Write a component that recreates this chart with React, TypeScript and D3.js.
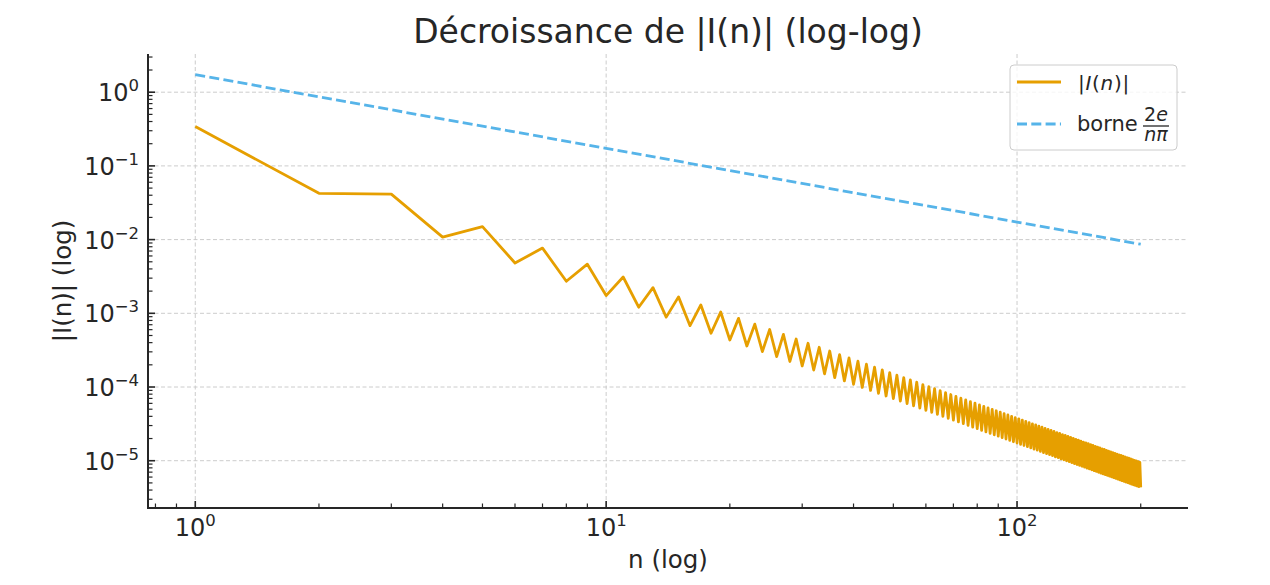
import * as d3 from 'd3';
import React from 'react';

// |I(n)| for n = 1..200
const absI: number[] = [
  0.342, 0.0425, 0.0414, 0.0108, 0.015, 0.00482, 0.00767, 0.00272, 0.00464, 0.00174,
  0.00311, 0.00121, 0.00223, 0.000888, 0.00167, 0.00068, 0.0013, 0.000537, 0.00104, 0.000435,
  8.54e-4, 3.6e-4, 7.12e-4, 3.02e-4, 6.03e-4, 2.58e-4, 5.17e-4, 2.22e-4, 4.48e-4, 1.93e-4,
  3.92e-4, 1.7e-4, 3.46e-4, 1.51e-4, 3.08e-4, 1.34e-4, 2.75e-4, 1.21e-4, 2.48e-4, 1.09e-4,
  2.24e-4, 9.87e-5, 2.04e-4, 8.99e-5, 1.86e-4, 8.23e-5, 1.71e-4, 7.56e-5, 1.57e-4, 6.96e-5,
  1.45e-4, 6.44e-5, 1.34e-4, 5.97e-5, 1.25e-4, 5.55e-5, 1.16e-4, 5.18e-5, 1.08e-4, 4.84e-5,
  1.01e-4, 4.53e-5, 9.49e-5, 4.25e-5, 8.92e-5, 4.0e-5, 8.39e-5, 3.77e-5, 7.91e-5, 3.55e-5,
  7.47e-5, 3.36e-5, 7.07e-5, 3.18e-5, 6.7e-5, 3.01e-5, 6.35e-5, 2.86e-5, 6.04e-5, 2.72e-5,
  5.74e-5, 2.59e-5, 5.47e-5, 2.47e-5, 5.21e-5, 2.35e-5, 4.98e-5, 2.25e-5, 4.76e-5, 2.15e-5,
  4.55e-5, 2.06e-5, 4.36e-5, 1.97e-5, 4.17e-5, 1.89e-5, 4.0e-5, 1.81e-5, 3.84e-5, 1.74e-5,
  3.69e-5, 1.67e-5, 3.55e-5, 1.61e-5, 3.42e-5, 1.55e-5, 3.29e-5, 1.49e-5, 3.17e-5, 1.44e-5,
  3.06e-5, 1.39e-5, 2.95e-5, 1.34e-5, 2.85e-5, 1.29e-5, 2.75e-5, 1.25e-5, 2.66e-5, 1.21e-5,
  2.57e-5, 1.17e-5, 2.49e-5, 1.13e-5, 2.41e-5, 1.1e-5, 2.34e-5, 1.06e-5, 2.26e-5, 1.03e-5,
  2.2e-5, 9.99e-6, 2.13e-5, 9.7e-6, 2.07e-5, 9.41e-6, 2.01e-5, 9.14e-6, 1.95e-5, 8.88e-6,
  1.9e-5, 8.63e-6, 1.84e-5, 8.4e-6, 1.79e-5, 8.17e-6, 1.74e-5, 7.95e-6, 1.7e-5, 7.74e-6,
  1.65e-5, 7.54e-6, 1.61e-5, 7.34e-6, 1.57e-5, 7.15e-6, 1.53e-5, 6.97e-6, 1.49e-5, 6.8e-6,
  1.45e-5, 6.63e-6, 1.42e-5, 6.47e-6, 1.38e-5, 6.32e-6, 1.35e-5, 6.17e-6, 1.32e-5, 6.02e-6,
  1.29e-5, 5.89e-6, 1.26e-5, 5.75e-6, 1.23e-5, 5.62e-6, 1.2e-5, 5.5e-6, 1.18e-5, 5.37e-6,
  1.15e-5, 5.26e-6, 1.13e-5, 5.14e-6, 1.1e-5, 5.03e-6, 1.08e-5, 4.93e-6, 1.06e-5, 4.82e-6,
  1.03e-5, 4.72e-6, 1.01e-5, 4.63e-6, 9.91e-6, 4.53e-6, 9.71e-6, 4.44e-6, 9.51e-6, 4.35e-6,
];

// bound 2e/(n*pi)
const boundN = [1, 2, 5, 10, 20, 50, 100, 200];
const boundValues = [1.7305, 0.8653, 0.3461, 0.1731, 0.08653, 0.03461, 0.01731, 0.008653];

const xMajorTicks = [1, 10, 100];
const xTickExponents = ['0', '1', '2'];
const yMajorTicks = [1, 0.1, 0.01, 0.001, 1e-4, 1e-5];
const yTickExponents = ['0', '\u22121', '\u22122', '\u22123', '\u22124', '\u22125'];

const width = 1270;
const height = 585;
const margin = { top: 54, right: 82, bottom: 77, left: 148 };
const font = 'DejaVu Sans, sans-serif';
const ink = '#262626';
const orange = '#E69F00';
const blue = '#56B4E9';

// matplotlib-style 5% margin in log space
const logPad = (lo: number, hi: number): [number, number] => {
  const a = Math.log10(lo);
  const b = Math.log10(hi);
  const p = (b - a) * 0.05;
  return [Math.pow(10, a - p), Math.pow(10, b + p)];
};

const isPow10 = (v: number) => Math.abs(Math.log10(v) - Math.round(Math.log10(v))) < 1e-9;

const App: React.FC = () => {
  const points = absI.map((v, i) => ({ n: i + 1, v }));
  const bound = boundN.map((n, i) => ({ n, v: boundValues[i] }));

  const x = d3
    .scaleLog()
    .domain(logPad(1, points.length))
    .range([margin.left, width - margin.right]);
  const allV = [...absI, ...boundValues];
  const y = d3
    .scaleLog()
    .domain(logPad(d3.min(allV)!, d3.max(allV)!))
    .range([height - margin.bottom, margin.top]);

  const line = d3
    .line<{ n: number; v: number }>()
    .x((d) => x(d.n))
    .y((d) => y(d.v));

  const xMinor = x.ticks().filter((t) => !isPow10(t));
  const yMinor = y.ticks().filter((t) => !isPow10(t));
  const x0 = margin.left;
  const x1 = width - margin.right;
  const y0 = height - margin.bottom;
  const y1 = margin.top;

  return (
    <svg
      width={width}
      height={height}
      style={{ position: 'absolute', left: 0, top: 0, background: '#fff' }}
      fontFamily={font}
    >
      {/* grid */}
      <g stroke="#cccccc" strokeWidth={1} strokeDasharray="4,2.5">
        {xMajorTicks.map((t) => (
          <line key={'gx' + t} x1={x(t)} x2={x(t)} y1={y1} y2={y0} />
        ))}
        {yMajorTicks.map((t) => (
          <line key={'gy' + t} x1={x0} x2={x1} y1={y(t)} y2={y(t)} />
        ))}
      </g>

      {/* series */}
      <path
        d={line(points)!}
        fill="none"
        stroke={orange}
        strokeWidth={2.8}
        strokeLinejoin="round"
      />
      <path
        d={line(bound)!}
        fill="none"
        stroke={blue}
        strokeWidth={2.8}
        strokeDasharray="10,4.3"
      />

      {/* spines */}
      <g stroke={ink} strokeWidth={2}>
        <line x1={x0} x2={x0} y1={y1} y2={y0 + 1} />
        <line x1={x0 - 1} x2={x1} y1={y0} y2={y0} />
      </g>

      {/* ticks pointing inward */}
      <g stroke={ink}>
        {xMajorTicks.map((t) => (
          <line key={'tx' + t} x1={x(t)} x2={x(t)} y1={y0} y2={y0 - 7} strokeWidth={1.6} />
        ))}
        {xMinor.map((t) => (
          <line key={'mx' + t} x1={x(t)} x2={x(t)} y1={y0} y2={y0 - 4.5} strokeWidth={1.2} />
        ))}
        {yMajorTicks.map((t) => (
          <line key={'ty' + t} x1={x0} x2={x0 + 7} y1={y(t)} y2={y(t)} strokeWidth={1.6} />
        ))}
        {yMinor.map((t) => (
          <line key={'my' + t} x1={x0} x2={x0 + 4.5} y1={y(t)} y2={y(t)} strokeWidth={1.2} />
        ))}
      </g>

      {/* tick labels */}
      <g fill={ink} fontSize={24}>
        {xMajorTicks.map((t, i) => (
          <text key={'lx' + t} x={x(t)} y={536} textAnchor="middle">
            10<tspan dy={-10} fontSize={16.5}>{xTickExponents[i]}</tspan>
          </text>
        ))}
        {yMajorTicks.map((t, i) => (
          <text key={'ly' + t} x={x0 - 9} y={y(t) + 9} textAnchor="end">
            10<tspan dy={-10} fontSize={16.5}>{yTickExponents[i]}</tspan>
          </text>
        ))}
      </g>

      {/* axis labels and title */}
      <text x={(x0 + x1) / 2} y={568} textAnchor="middle" fontSize={24.5} fill={ink}>
        n (log)
      </text>
      <text
        transform={`translate(71,${(y0 + y1) / 2}) rotate(-90)`}
        textAnchor="middle"
        fontSize={24.5}
        fill={ink}
      >
        |I(n)| (log)
      </text>
      <text x={(x0 + x1) / 2} y={43} textAnchor="middle" fontSize={33} fill={ink}>
        Décroissance de |I(n)| (log-log)
      </text>

      {/* legend */}
      <g>
        <rect x={1010} y={65} width={167} height={85} rx={4} fill="#fff" fillOpacity={0.8} stroke="#cccccc" />
        <line x1={1017} x2={1061} y1={82} y2={82} stroke={orange} strokeWidth={2.8} />
        <text x={1078} y={90} fontSize={20} fill={ink} letterSpacing={0.7}>
          |<tspan fontStyle="italic">I</tspan>(<tspan fontStyle="italic">n</tspan>)|
        </text>
        <line x1={1017} x2={1061} y1={124} y2={124} stroke={blue} strokeWidth={2.8} strokeDasharray="10,4.3" />
        <text x={1077} y={131} fontSize={21} fill={ink}>
          borne
        </text>
        <text x={1156} y={121} fontSize={19} fill={ink} textAnchor="middle">
          2<tspan fontStyle="italic">e</tspan>
        </text>
        <line x1={1143} x2={1169} y1={126} y2={126} stroke={ink} strokeWidth={1.3} />
        <text x={1156} y={141} fontSize={19} fill={ink} textAnchor="middle" fontStyle="italic">
          nπ
        </text>
      </g>
    </svg>
  );
};

export default App;
